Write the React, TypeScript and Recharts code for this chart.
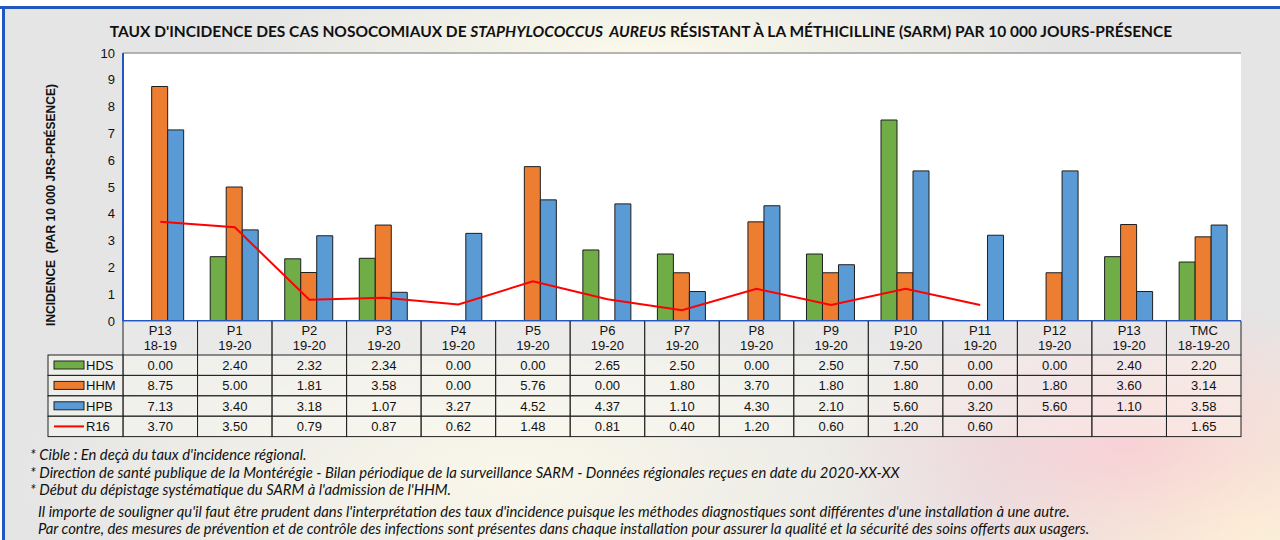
import { Bar, CartesianGrid, ComposedChart, Line, XAxis, YAxis } from 'recharts';

const periods = ['P13', 'P1', 'P2', 'P3', 'P4', 'P5', 'P6', 'P7', 'P8', 'P9', 'P10', 'P11', 'P12', 'P13', 'TMC'];
const years = ['18-19', '19-20', '19-20', '19-20', '19-20', '19-20', '19-20', '19-20', '19-20', '19-20', '19-20', '19-20', '19-20', '19-20', '18-19-20'];

const hds = [0.0, 2.4, 2.32, 2.34, 0.0, 0.0, 2.65, 2.5, 0.0, 2.5, 7.5, 0.0, 0.0, 2.4, 2.2];
const hhm = [8.75, 5.0, 1.81, 3.58, 0.0, 5.76, 0.0, 1.8, 3.7, 1.8, 1.8, 0.0, 1.8, 3.6, 3.14];
const hpb = [7.13, 3.4, 3.18, 1.07, 3.27, 4.52, 4.37, 1.1, 4.3, 2.1, 5.6, 3.2, 5.6, 1.1, 3.58];
const r16 = [3.7, 3.5, 0.79, 0.87, 0.62, 1.48, 0.81, 0.4, 1.2, 0.6, 1.2, 0.6, null, null, 1.65];

const yTicks = [0, 1, 2, 3, 4, 5, 6, 7, 8, 9, 10];

const series = [
  { key: 'hds', name: 'HDS', values: hds, color: '#70ad47', type: 'bar' },
  { key: 'hhm', name: 'HHM', values: hhm, color: '#ed7d31', type: 'bar' },
  { key: 'hpb', name: 'HPB', values: hpb, color: '#5b9bd5', type: 'bar' },
  { key: 'r16', name: 'R16', values: r16, color: '#ff0000', type: 'line' },
];

const data = periods.map((p, i) => ({
  key: `${p} ${years[i]}`,
  hds: hds[i],
  hhm: hhm[i],
  hpb: hpb[i],
  r16: r16[i],
}));

// layout
const W = 1280;
const H = 540;
const PLOT_LEFT = 123;
const PLOT_RIGHT = 1241;
const PLOT_TOP = 53;
const PLOT_BOTTOM = 321;
const COL_W = (PLOT_RIGHT - PLOT_LEFT) / periods.length;
const HEADER_H = 34;
const ROW_H = 20.4;
const LEGEND_LEFT = 48;
const FRAME_BLUE = '#2456c0';
const TABLE_FONT = 'Arial, "Liberation Sans", sans-serif';
const NOTE_FONT = 'Lato, "Open Sans", sans-serif';

const TableTick = (props: any) => {
  const { x, index } = props;
  const left = x - COL_W / 2;
  const rowsTop = PLOT_BOTTOM + HEADER_H;
  return (
    <g fontFamily={TABLE_FONT} fontSize={13} fill="#111">
      <rect x={left} y={PLOT_BOTTOM} width={COL_W} height={HEADER_H} fill="rgba(235,235,235,0.55)" />
      <line x1={left} x2={left} y1={PLOT_BOTTOM} y2={rowsTop} stroke="#222" />
      <line x1={left + COL_W} x2={left + COL_W} y1={PLOT_BOTTOM} y2={rowsTop} stroke="#222" />
      <text x={x} y={PLOT_BOTTOM + 14} textAnchor="middle" fill="#111">{periods[index]}</text>
      <text x={x} y={PLOT_BOTTOM + 29} textAnchor="middle" fill="#111">{years[index]}</text>
      {series.map((s, r) => {
        const v = s.values[index];
        const top = rowsTop + r * ROW_H;
        return (
          <g key={s.key}>
            <rect x={left} y={top} width={COL_W} height={ROW_H} fill="rgba(255,255,245,0.35)" stroke="#222" strokeWidth={1} />
            <text x={x} y={top + ROW_H / 2 + 4.5} textAnchor="middle" fill="#111">
              {v === null || v === undefined ? '' : v.toFixed(2)}
            </text>
          </g>
        );
      })}
      {index === 0 &&
        series.map((s, r) => {
          const top = rowsTop + r * ROW_H;
          const lw = left - LEGEND_LEFT;
          return (
            <g key={`lg-${s.key}`}>
              <rect x={LEGEND_LEFT} y={top} width={lw} height={ROW_H} fill="rgba(255,255,245,0.35)" stroke="#222" strokeWidth={1} />
              {s.type === 'bar' ? (
                <rect x={LEGEND_LEFT + 6} y={top + 6} width={30} height={8} fill={s.color} stroke="#222" strokeWidth={1} />
              ) : (
                <line x1={LEGEND_LEFT + 6} x2={LEGEND_LEFT + 36} y1={top + ROW_H / 2} y2={top + ROW_H / 2} stroke={s.color} strokeWidth={2} />
              )}
              <text x={LEGEND_LEFT + 38} y={top + ROW_H / 2 + 4.5} fill="#111">{s.name}</text>
            </g>
          );
        })}
    </g>
  );
};

const footnotes = [
  "* Cible : En deçà du taux d'incidence régional.",
  '* Direction de santé publique de la Montérégie - Bilan périodique de la surveillance SARM - Données régionales reçues en date du 2020-XX-XX',
  "* Début du dépistage systématique du SARM à l'admission de l'HHM.",
];
const notes = [
  "Il importe de souligner qu'il faut être prudent dans l'interprétation des taux d'incidence puisque les méthodes diagnostiques sont différentes d'une installation à une autre.",
  'Par contre, des mesures de prévention et de contrôle des infections sont présentes dans chaque installation pour assurer la qualité et la sécurité des soins offerts aux usagers.',
];

const App = () => {
  return (
    <div style={{ position: 'absolute', left: 0, top: 0, width: W, height: H, overflow: 'hidden', background: '#fff' }}>
      <div
        style={{
          position: 'absolute',
          left: 4,
          top: 8,
          right: 0,
          bottom: 0,
          background:
            'radial-gradient(ellipse 300px 160px at 88% 82%, rgba(250,200,210,0.75), rgba(250,200,210,0) 100%),' +
            'radial-gradient(ellipse 260px 200px at 97% 97%, rgba(255,250,215,0.95), rgba(255,250,215,0) 100%),' +
            'radial-gradient(ellipse 420px 120px at 50% 10%, rgba(255,253,235,0.9), rgba(255,253,235,0) 100%),' +
            'radial-gradient(ellipse 500px 200px at 40% 88%, rgba(255,252,235,0.8), rgba(255,252,235,0) 100%),' +
            '#e5e5e5',
        }}
      />
      <div style={{ position: 'absolute', left: 0, top: 6, width: W, height: 3, background: FRAME_BLUE }} />
      <div style={{ position: 'absolute', left: 2, top: 6, width: 3, height: H, background: FRAME_BLUE }} />
      <div
        style={{
          position: 'absolute',
          left: 11,
          top: 22,
          width: W - 20,
          textAlign: 'center',
          fontFamily: NOTE_FONT,
          fontWeight: 700,
          fontSize: 15.5,
          color: '#111',
          whiteSpace: 'nowrap',
        }}
      >
        TAUX D'INCIDENCE DES CAS NOSOCOMIAUX DE <i>STAPHYLOCOCCUS&nbsp; AUREUS</i> RÉSISTANT À LA MÉTHICILLINE (SARM) PAR 10 000 JOURS-PRÉSENCE
      </div>
      <div
        style={{
          position: 'absolute',
          left: 52 - 150,
          top: 205 - 8,
          width: 300,
          height: 16,
          transform: 'rotate(-90deg)',
          textAlign: 'center',
          fontFamily: TABLE_FONT,
          fontWeight: 700,
          fontSize: 12,
          color: '#111',
          whiteSpace: 'pre',
        }}
      >
        {'INCIDENCE  (PAR 10 000 JRS-PRÉSENCE)'}
      </div>
      <div style={{ position: 'absolute', left: 0, top: 0 }}>
        <ComposedChart
          width={W}
          height={H}
          data={data}
          margin={{ top: PLOT_TOP, right: W - PLOT_RIGHT, bottom: 0, left: PLOT_LEFT - 30 }}
          barCategoryGap="17%"
          barGap={0}
        >
          <CartesianGrid horizontal vertical={false} stroke="#9c9c9c" strokeWidth={1.3} fill="#ffffff" fillOpacity={1} />
          <XAxis
            dataKey="key"
            interval={0}
            tickLine={false}
            axisLine={{ stroke: FRAME_BLUE, strokeWidth: 2 }}
            tick={<TableTick />}
            height={H - PLOT_BOTTOM}
          />
          <YAxis
            yAxisId="left"
            width={30}
            domain={[0, 10]}
            ticks={yTicks}
            interval={0}
            tickLine={false}
            axisLine={{ stroke: FRAME_BLUE, strokeWidth: 2 }}
            tick={{ fontSize: 13, fill: '#111', fontFamily: TABLE_FONT }}
          />
          <YAxis
            yAxisId="right"
            orientation="right"
            width={0}
            domain={[0, 10]}
            tick={false}
            tickLine={false}
            axisLine={{ stroke: FRAME_BLUE, strokeWidth: 2 }}
          />
          {series
            .filter((s) => s.type === 'bar')
            .map((s) => (
              <Bar
                key={s.key}
                yAxisId="left"
                dataKey={s.key}
                name={s.name}
                fill={s.color}
                stroke="#1e1e1e"
                strokeWidth={1}
                isAnimationActive={false}
              />
            ))}
          <Line
            yAxisId="left"
            dataKey="r16"
            name="R16"
            type="linear"
            stroke="#ff0000"
            strokeWidth={2}
            dot={false}
            activeDot={false}
            connectNulls={false}
            isAnimationActive={false}
          />
        </ComposedChart>
      </div>
      <div
        style={{
          position: 'absolute',
          left: 30,
          top: 446,
          fontFamily: NOTE_FONT,
          fontStyle: 'italic',
          fontSize: 14.8,
          color: '#111',
          lineHeight: '17.5px',
          whiteSpace: 'nowrap',
        }}
      >
        {footnotes.map((f) => (
          <div key={f}>{f}</div>
        ))}
        <div style={{ marginTop: 4, paddingLeft: 8 }}>
          {notes.map((n) => (
            <div key={n}>{n}</div>
          ))}
        </div>
      </div>
    </div>
  );
};

export default App;
